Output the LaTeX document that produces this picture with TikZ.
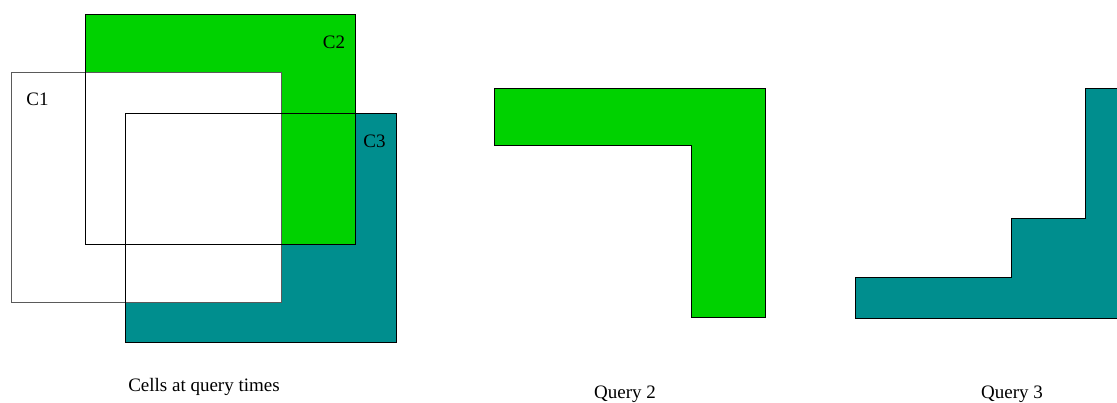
\documentclass[tikz,border=0pt]{standalone}
\usepackage{fontspec}
\setmainfont{Liberation Serif}
\definecolor{cellgreen}{RGB}{0,210,0}
\definecolor{cellteal}{RGB}{0,142,142}
\definecolor{cellgray}{RGB}{90,90,90}
\tikzset{
  outline/.style={draw=black, line width=1pt},
  lightoutline/.style={draw=cellgray, line width=1pt},
  label/.style={font=\fontsize{19}{22}\selectfont, inner sep=0pt, anchor=base},
}
\begin{document}
\begin{tikzpicture}[x=1pt, y=-1pt]
  \useasboundingbox (0,0) rectangle (1117,402);

  % cells at the query times: fills first, outlines on top
  \fill[cellteal] (125,113) rectangle (396,342);
  \fill[cellgreen] (85,14) rectangle (355,244);
  \fill[white] (11,72) rectangle (281,302);
  \draw[lightoutline] (11,72) rectangle (281,302);
  \draw[outline] (85,14) rectangle (355,244);
  \draw[outline] (125,113) rectangle (396,342);

  \node[label] (c1) at (37.5,105) {C1};
  \node[label] (c2) at (334,48) {C2};
  \node[label] (c3) at (374.5,147) {C3};

  % query 2 region
  \filldraw[fill=cellgreen, outline]
    (494.7,88.7) -- (765,88.7) -- (765,317.7) -- (691.3,317.7)
    -- (691.3,145.3) -- (494.7,145.3) -- cycle;

  % query 3 region, running off the right edge
  \begin{scope}
    \clip (0,0) rectangle (1117,402);
    \filldraw[fill=cellteal, outline]
      (855,318) -- (855,277) -- (1011.3,277) -- (1011.3,218.7)
      -- (1085.3,218.7) -- (1085.3,88.5) -- (1125,88.5) -- (1125,318) -- cycle;
  \end{scope}

  \node[label] (cells) at (204,391.7) {Cells at query times};
  \node[label] (q2) at (625,398) {Query 2};
  \node[label] (q3) at (1012,398) {Query 3};
\end{tikzpicture}
\end{document}
